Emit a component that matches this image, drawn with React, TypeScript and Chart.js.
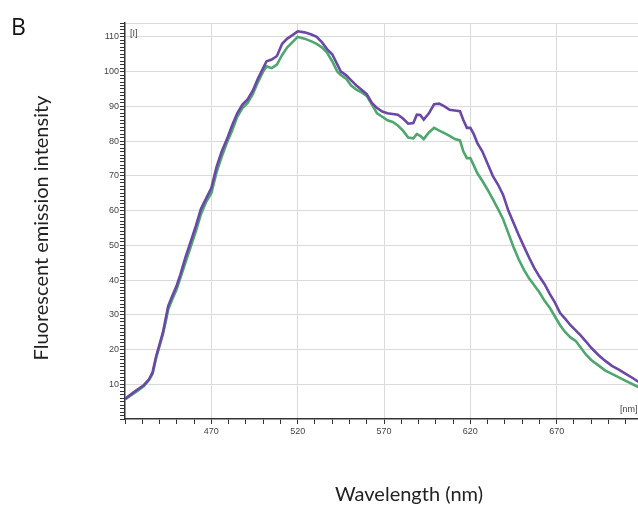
import React, { useEffect, useRef } from "react";
import { Chart, registerables } from "chart.js";

Chart.register(...registerables);

const wavelengths = [420,424,427,431,434,436,438,440,442,444,445,447,450,452,455,458,461,464,467,470,473,476,479,482,485,488,491,494,497,500,502,505,508,511,514,517,520,524,528,531,534,537,540,543,545,548,551,554,557,560,563,566,569,572,575,578,581,584,587,589,591,593,596,599,602,605,608,611,614,616,618,620,622,624,627,630,633,636,639,642,645,648,651,654,657,660,663,666,669,672,675,678,681,684,687,690,694,698,702,706,710,714,717,720];

const purpleSeries = [5.8,7.3,8.4,9.8,11.5,13.5,18,21.5,25,30,32.5,35,38.5,41.5,46.5,51,55.5,60.5,63.5,66.5,72.5,77,80.5,84.5,88,90.5,92,94.5,98,101,103,103.5,104.5,108,109.5,110.5,111.6,111.3,110.7,110,108.5,106.5,105,102,100,99,97.5,96,94.8,93.5,91,89.5,88.5,88,87.8,87.6,86.5,85,85.2,87.6,87.5,86.2,88,90.6,90.8,90,89,88.8,88.6,86,83.8,83.8,82,79.5,77,73.5,70,67.5,64.5,60,56.5,53,49.7,46.5,43.5,41,38.8,36,33.5,30.5,28.8,27,25.5,24,22.3,20.5,18.5,16.8,15.3,14.2,13,11.8,10.8,10];

const greenSeries = [5.6,7,8,9.5,11.3,13,17.5,21,24.5,29,31.5,34,37.5,40.5,45,49.5,54,59,62.5,65,71,75.5,79.5,83,87,89.5,91,93.5,97,100,101.5,101,102,104.8,107,108.5,110,109.5,108.7,108,107,105.5,103,100,99,98,96,94.8,94,93,90.5,88,87,86,85.5,84.5,83,81,80.8,82,81.5,80.6,82.5,83.8,83,82.3,81.5,80.6,80.2,77,75.1,75.1,73,70.8,68.5,66,63.3,60.5,57.5,53.5,49.5,46,43,40.5,38.5,36.5,34,32,29.5,27,25,23.5,22.5,20.5,18.5,17,15.5,14,13,12,11,10,9.3,8.8];

const xLabelTicks = [470, 520, 570, 620, 670];
const yLabelTicks = [10, 20, 30, 40, 50, 60, 70, 80, 90, 100, 110];

const xTitle = "Wavelength (nm)";
const yTitle = "Fluorescent emission intensity";
const panelLetter = "B";

const GRID = "#dadada";
const AXIS = "#333333";
const TITLE_FONT = '20px Lato';

const textPlugin = {
  id: "extraText",
  afterDraw(chart: any) {
    const { ctx, chartArea } = chart;
    ctx.save();
    ctx.fillStyle = "#111";
    ctx.font = '23px "Open Sans"';
    ctx.textBaseline = "alphabetic";
    ctx.textAlign = "left";
    ctx.fillText(panelLetter, 11, 35);

    ctx.fillStyle = "#444";
    ctx.font = '9px "Liberation Sans"';
    ctx.fillText("[I]", chartArea.left + 5, chartArea.top + 13);
    ctx.fillText("[nm]", chartArea.right - 23, chartArea.bottom - 7);

    ctx.fillStyle = "#222";
    ctx.font = TITLE_FONT;
    ctx.textAlign = "center";
    ctx.fillText(xTitle, 409, 501);

    ctx.translate(48, 228);
    ctx.rotate(-Math.PI / 2);
    ctx.fillText(yTitle, 0, 0);
    ctx.restore();
  },
};

export default function App() {
  const ref = useRef<HTMLCanvasElement | null>(null);
  useEffect(() => {
    if (!ref.current) return;
    const chart = new Chart(ref.current, {
      type: "line",
      data: {
        datasets: [
          {
            label: "purple",
            data: wavelengths.map((w, i) => ({ x: w, y: purpleSeries[i] })),
            borderColor: "#6a48a6",
            borderWidth: 2.6,
            pointRadius: 0,
            tension: 0,
            order: 0,
          },
          {
            label: "green",
            data: wavelengths.map((w, i) => ({ x: w, y: greenSeries[i] })),
            borderColor: "#4fa66f",
            borderWidth: 2.6,
            pointRadius: 0,
            tension: 0,
            order: 1,
          },
        ],
      },
      options: {
        animation: false,
        responsive: false,
        devicePixelRatio: 1,
        layout: { padding: { left: 0, right: 0, top: 23, bottom: 0 } },
        plugins: {
          legend: { display: false },
          tooltip: { enabled: false },
        },
        scales: {
          x: {
            type: "linear",
            min: 420,
            max: 720,
            afterFit: (s: any) => {
              s.height = 87;
            },
            border: { color: AXIS, width: 1.5 },
            grid: {
              color: (c: any) => (c.tick && xLabelTicks.includes(c.tick.value) ? GRID : "rgba(0,0,0,0)"),
              tickColor: AXIS,
              tickLength: 5,
            },
            ticks: {
              stepSize: 10,
              autoSkip: false,
              maxRotation: 0,
              padding: 2,
              color: "#444",
              font: { family: "Liberation Sans", size: 9 },
              callback: (v: any) => (xLabelTicks.includes(Number(v)) ? String(v) : ""),
            },
          },
          y: {
            type: "linear",
            min: 0,
            max: 114,
            afterFit: (s: any) => {
              s.width = 125;
            },
            border: { color: AXIS, width: 1.5 },
            grid: {
              color: (c: any) =>
                c.tick && (yLabelTicks.includes(c.tick.value) || c.tick.value === 114) ? GRID : "rgba(0,0,0,0)",
              tickColor: AXIS,
              tickLength: 5,
            },
            ticks: {
              stepSize: 1,
              autoSkip: false,
              padding: 1,
              color: "#444",
              font: { family: "Liberation Sans", size: 9 },
              callback: (v: any) => (yLabelTicks.includes(Number(v)) ? String(v) : ""),
            },
          },
        },
      },
      plugins: [textPlugin],
    });
    return () => chart.destroy();
  }, []);

  return (
    <div
      style={{
        position: "fixed",
        left: 0,
        top: 0,
        width: 638,
        height: 506,
        overflow: "hidden",
        background: "#fff",
      }}
    >
      <canvas ref={ref} width={645} height={506} style={{ display: "block" }} />
    </div>
  );
}
